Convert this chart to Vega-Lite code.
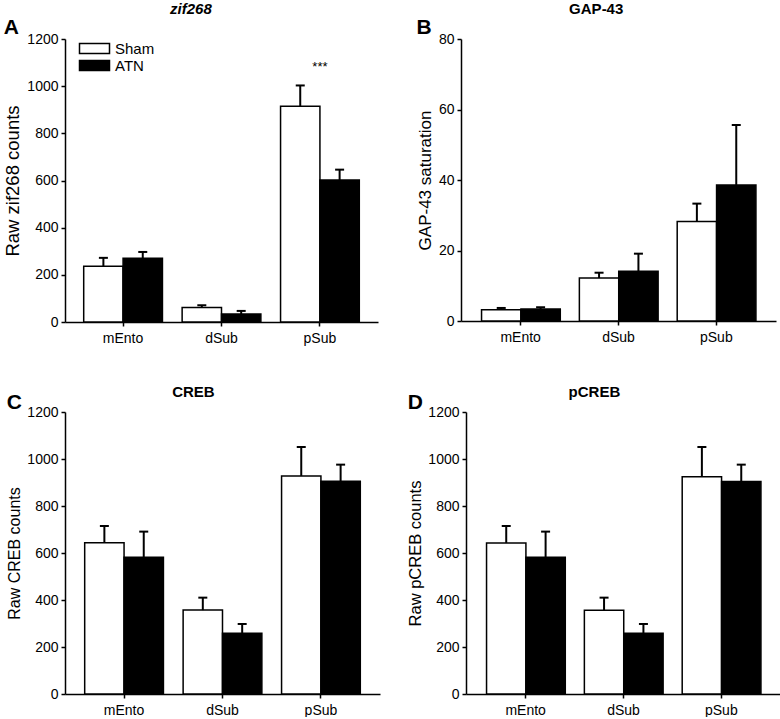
{
  "$schema": "https://vega.github.io/schema/vega-lite/v6.json",
  "padding": {"left": 3, "top": 2, "right": 0, "bottom": 0},
  "background": "white",
  "config": {
    "font": "Liberation Sans",
    "view": {"stroke": null},
    "axis": {"grid": false, "domainColor": "black", "domainWidth": 1.5, "tickColor": "black", "tickWidth": 1.5, "tickSize": 4, "labelColor": "black", "labelFont": "Liberation Sans", "labelFontSize": 14, "titleFont": "Liberation Sans", "titleFontSize": 16, "titleFontWeight": "normal", "titleColor": "black"},
    "title": {"font": "Liberation Sans", "color": "black", "fontWeight": "bold"}
  },
  "datasets": {
    "bars": [
      {"panel": "A", "region": "mEnto", "group": "Sham", "value": 236, "upper": 272},
      {"panel": "A", "region": "mEnto", "group": "ATN", "value": 270, "upper": 297},
      {"panel": "A", "region": "dSub", "group": "Sham", "value": 62, "upper": 71},
      {"panel": "A", "region": "dSub", "group": "ATN", "value": 34, "upper": 47},
      {"panel": "A", "region": "pSub", "group": "Sham", "value": 915, "upper": 1003},
      {"panel": "A", "region": "pSub", "group": "ATN", "value": 602, "upper": 646},
      {"panel": "B", "region": "mEnto", "group": "Sham", "value": 3.2, "upper": 3.7},
      {"panel": "B", "region": "mEnto", "group": "ATN", "value": 3.4, "upper": 3.9},
      {"panel": "B", "region": "dSub", "group": "Sham", "value": 12.2, "upper": 13.7},
      {"panel": "B", "region": "dSub", "group": "ATN", "value": 14.1, "upper": 19.1},
      {"panel": "B", "region": "pSub", "group": "Sham", "value": 28.2, "upper": 33.3},
      {"panel": "B", "region": "pSub", "group": "ATN", "value": 38.6, "upper": 55.6},
      {"panel": "C", "region": "mEnto", "group": "Sham", "value": 644, "upper": 715},
      {"panel": "C", "region": "mEnto", "group": "ATN", "value": 582, "upper": 691},
      {"panel": "C", "region": "dSub", "group": "Sham", "value": 357, "upper": 410},
      {"panel": "C", "region": "dSub", "group": "ATN", "value": 258, "upper": 298},
      {"panel": "C", "region": "pSub", "group": "Sham", "value": 928, "upper": 1051},
      {"panel": "C", "region": "pSub", "group": "ATN", "value": 905, "upper": 976},
      {"panel": "D", "region": "mEnto", "group": "Sham", "value": 643, "upper": 715},
      {"panel": "D", "region": "mEnto", "group": "ATN", "value": 582, "upper": 691},
      {"panel": "D", "region": "dSub", "group": "Sham", "value": 356, "upper": 410},
      {"panel": "D", "region": "dSub", "group": "ATN", "value": 258, "upper": 298},
      {"panel": "D", "region": "pSub", "group": "Sham", "value": 925, "upper": 1051},
      {"panel": "D", "region": "pSub", "group": "ATN", "value": 904, "upper": 976}
    ],
    "stars": [
      {"panel": "A", "region": "pSub", "label": "***", "y": 1080}
    ]
  },
  "resolve": {"scale": {"fill": "independent"}, "legend": {"fill": "independent"}},
  "spacing": 40,
  "vconcat": [
    {
      "resolve": {"scale": {"fill": "independent"}, "legend": {"fill": "independent"}},
      "spacing": 38,
      "hconcat": [
        {
          "title": {"text": "zif268", "fontStyle": "italic", "fontSize": 15, "anchor": "middle", "offset": 0},
          "resolve": {"scale": {"fill": "independent"}, "legend": {"fill": "independent"}},
          "vconcat": [
            {
              "title": {"text": "A", "anchor": "start", "frame": "bounds", "fontSize": 21, "offset": -6},
              "width": 313,
              "height": 283,
              "data": {"name": "bars"},
              "transform": [{"filter": "datum.panel === 'A'"}],
              "layer": [
                {
                  "mark": {"type": "bar", "stroke": "black", "strokeWidth": 1.5},
                  "encoding": {
                    "x": {"field": "region", "type": "nominal", "scale": {"domain": ["mEnto", "dSub", "pSub"], "paddingInner": 0.2, "paddingOuter": 0.19}, "axis": {"title": null, "labelAngle": 0, "labelPadding": 5}},
                    "xOffset": {"field": "group", "type": "nominal", "scale": {"domain": ["Sham", "ATN"], "paddingInner": 0, "paddingOuter": 0}},
                    "y": {"field": "value", "type": "quantitative", "title": "Raw zif268 counts", "scale": {"domain": [0, 1200], "nice": false}, "axis": {"values": [0, 200, 400, 600, 800, 1000, 1200], "format": "d", "labelPadding": 3, "titleFontSize": 18.5}},
                    "fill": {"field": "group", "type": "nominal", "scale": {"domain": ["Sham", "ATN"], "range": ["white", "black"]},
                      "legend": {"orient": "none", "legendX": 12, "legendY": 2, "title": null, "symbolType": "M-1,-1H5V1H-1Z", "symbolSize": 100, "symbolStrokeColor": "black", "symbolStrokeWidth": 1.5, "symbolOpacity": 1, "labelFontSize": 15, "labelFont": "Liberation Sans", "labelColor": "black", "labelOffset": 23, "rowPadding": 0}}
                  }
                },
                {
                  "mark": {"type": "rule", "strokeWidth": 2, "color": "black"},
                  "encoding": {
                    "x": {"field": "region", "type": "nominal", "scale": {"domain": ["mEnto", "dSub", "pSub"]}},
                    "xOffset": {"field": "group", "type": "nominal", "scale": {"domain": ["Sham", "ATN"]}},
                    "y": {"field": "value", "type": "quantitative", "title": "Raw zif268 counts"},
                    "y2": {"field": "upper"}
                  }
                },
                {
                  "mark": {"type": "tick", "thickness": 2, "size": 9, "color": "black", "opacity": 1},
                  "encoding": {
                    "x": {"field": "region", "type": "nominal", "scale": {"domain": ["mEnto", "dSub", "pSub"]}},
                    "xOffset": {"field": "group", "type": "nominal", "scale": {"domain": ["Sham", "ATN"]}},
                    "y": {"field": "upper", "type": "quantitative", "title": "Raw zif268 counts"}
                  }
                },
                {
                  "data": {"name": "stars"},
                  "mark": {"type": "text", "fontSize": 13, "color": "black"},
                  "encoding": {
                    "x": {"field": "region", "type": "nominal", "scale": {"domain": ["mEnto", "dSub", "pSub"]}},
                    "y": {"field": "y", "type": "quantitative", "title": "Raw zif268 counts"},
                    "text": {"field": "label"}
                  }
                }
              ]
            }
          ]
        },
        {
          "title": {"text": "GAP-43", "fontSize": 15, "anchor": "middle", "offset": 0},
          "resolve": {"scale": {"fill": "independent"}, "legend": {"fill": "independent"}},
          "vconcat": [
            {
              "title": {"text": "B", "anchor": "start", "frame": "bounds", "fontSize": 21, "offset": -6},
              "width": 315,
              "height": 282,
              "data": {"name": "bars"},
              "transform": [{"filter": "datum.panel === 'B'"}],
              "layer": [
                {
                  "mark": {"type": "bar", "stroke": "black", "strokeWidth": 1.5},
                  "encoding": {
                    "x": {"field": "region", "type": "nominal", "scale": {"domain": ["mEnto", "dSub", "pSub"], "paddingInner": 0.2, "paddingOuter": 0.21}, "axis": {"title": null, "labelAngle": 0, "labelPadding": 5}},
                    "xOffset": {"field": "group", "type": "nominal", "scale": {"domain": ["Sham", "ATN"], "paddingInner": 0, "paddingOuter": 0}},
                    "y": {"field": "value", "type": "quantitative", "title": "GAP-43 saturation", "scale": {"domain": [0, 80], "nice": false}, "axis": {"values": [0, 20, 40, 60, 80], "format": "d", "labelPadding": 3, "titleFontSize": 17}},
                    "fill": {"condition": {"test": "datum.group === 'Sham'", "value": "white"}, "value": "black"}
                  }
                },
                {
                  "mark": {"type": "rule", "strokeWidth": 2, "color": "black"},
                  "encoding": {
                    "x": {"field": "region", "type": "nominal", "scale": {"domain": ["mEnto", "dSub", "pSub"]}},
                    "xOffset": {"field": "group", "type": "nominal", "scale": {"domain": ["Sham", "ATN"]}},
                    "y": {"field": "value", "type": "quantitative", "title": "GAP-43 saturation"},
                    "y2": {"field": "upper"}
                  }
                },
                {
                  "mark": {"type": "tick", "thickness": 2, "size": 9, "color": "black", "opacity": 1},
                  "encoding": {
                    "x": {"field": "region", "type": "nominal", "scale": {"domain": ["mEnto", "dSub", "pSub"]}},
                    "xOffset": {"field": "group", "type": "nominal", "scale": {"domain": ["Sham", "ATN"]}},
                    "y": {"field": "upper", "type": "quantitative", "title": "GAP-43 saturation"}
                  }
                }
              ]
            }
          ]
        }
      ]
    },
    {
      "resolve": {"scale": {"fill": "independent"}, "legend": {"fill": "independent"}},
      "spacing": 27,
      "hconcat": [
        {
          "title": {"text": "CREB", "fontSize": 15, "anchor": "middle", "offset": -8},
          "resolve": {"scale": {"fill": "independent"}, "legend": {"fill": "independent"}},
          "vconcat": [
            {
              "title": {"text": "C", "anchor": "start", "frame": "bounds", "fontSize": 21, "offset": -8},
              "width": 315,
              "height": 282,
              "data": {"name": "bars"},
              "transform": [{"filter": "datum.panel === 'C'"}],
              "layer": [
                {
                  "mark": {"type": "bar", "stroke": "black", "strokeWidth": 1.5},
                  "encoding": {
                    "x": {"field": "region", "type": "nominal", "scale": {"domain": ["mEnto", "dSub", "pSub"], "paddingInner": 0.2, "paddingOuter": 0.2}, "axis": {"title": null, "labelAngle": 0, "labelPadding": 5}},
                    "xOffset": {"field": "group", "type": "nominal", "scale": {"domain": ["Sham", "ATN"], "paddingInner": 0, "paddingOuter": 0}},
                    "y": {"field": "value", "type": "quantitative", "title": "Raw CREB counts", "scale": {"domain": [0, 1200], "nice": false}, "axis": {"values": [0, 200, 400, 600, 800, 1000, 1200], "format": "d", "labelPadding": 3}},
                    "fill": {"condition": {"test": "datum.group === 'Sham'", "value": "white"}, "value": "black"}
                  }
                },
                {
                  "mark": {"type": "rule", "strokeWidth": 2, "color": "black"},
                  "encoding": {
                    "x": {"field": "region", "type": "nominal", "scale": {"domain": ["mEnto", "dSub", "pSub"]}},
                    "xOffset": {"field": "group", "type": "nominal", "scale": {"domain": ["Sham", "ATN"]}},
                    "y": {"field": "value", "type": "quantitative", "title": "Raw CREB counts"},
                    "y2": {"field": "upper"}
                  }
                },
                {
                  "mark": {"type": "tick", "thickness": 2, "size": 9, "color": "black", "opacity": 1},
                  "encoding": {
                    "x": {"field": "region", "type": "nominal", "scale": {"domain": ["mEnto", "dSub", "pSub"]}},
                    "xOffset": {"field": "group", "type": "nominal", "scale": {"domain": ["Sham", "ATN"]}},
                    "y": {"field": "upper", "type": "quantitative", "title": "Raw CREB counts"}
                  }
                }
              ]
            }
          ]
        },
        {
          "title": {"text": "pCREB", "fontSize": 15, "anchor": "middle", "offset": -8},
          "resolve": {"scale": {"fill": "independent"}, "legend": {"fill": "independent"}},
          "vconcat": [
            {
              "title": {"text": "D", "anchor": "start", "frame": "bounds", "fontSize": 21, "offset": -8},
              "width": 315,
              "height": 282,
              "data": {"name": "bars"},
              "transform": [{"filter": "datum.panel === 'D'"}],
              "layer": [
                {
                  "mark": {"type": "bar", "stroke": "black", "strokeWidth": 1.5},
                  "encoding": {
                    "x": {"field": "region", "type": "nominal", "scale": {"domain": ["mEnto", "dSub", "pSub"], "paddingInner": 0.2, "paddingOuter": 0.21}, "axis": {"title": null, "labelAngle": 0, "labelPadding": 5}},
                    "xOffset": {"field": "group", "type": "nominal", "scale": {"domain": ["Sham", "ATN"], "paddingInner": 0, "paddingOuter": 0}},
                    "y": {"field": "value", "type": "quantitative", "title": "Raw pCREB counts", "scale": {"domain": [0, 1200], "nice": false}, "axis": {"values": [0, 200, 400, 600, 800, 1000, 1200], "format": "d", "labelPadding": 3, "titleFontSize": 16.5}},
                    "fill": {"condition": {"test": "datum.group === 'Sham'", "value": "white"}, "value": "black"}
                  }
                },
                {
                  "mark": {"type": "rule", "strokeWidth": 2, "color": "black"},
                  "encoding": {
                    "x": {"field": "region", "type": "nominal", "scale": {"domain": ["mEnto", "dSub", "pSub"]}},
                    "xOffset": {"field": "group", "type": "nominal", "scale": {"domain": ["Sham", "ATN"]}},
                    "y": {"field": "value", "type": "quantitative", "title": "Raw pCREB counts"},
                    "y2": {"field": "upper"}
                  }
                },
                {
                  "mark": {"type": "tick", "thickness": 2, "size": 9, "color": "black", "opacity": 1},
                  "encoding": {
                    "x": {"field": "region", "type": "nominal", "scale": {"domain": ["mEnto", "dSub", "pSub"]}},
                    "xOffset": {"field": "group", "type": "nominal", "scale": {"domain": ["Sham", "ATN"]}},
                    "y": {"field": "upper", "type": "quantitative", "title": "Raw pCREB counts"}
                  }
                }
              ]
            }
          ]
        }
      ]
    }
  ]
}
